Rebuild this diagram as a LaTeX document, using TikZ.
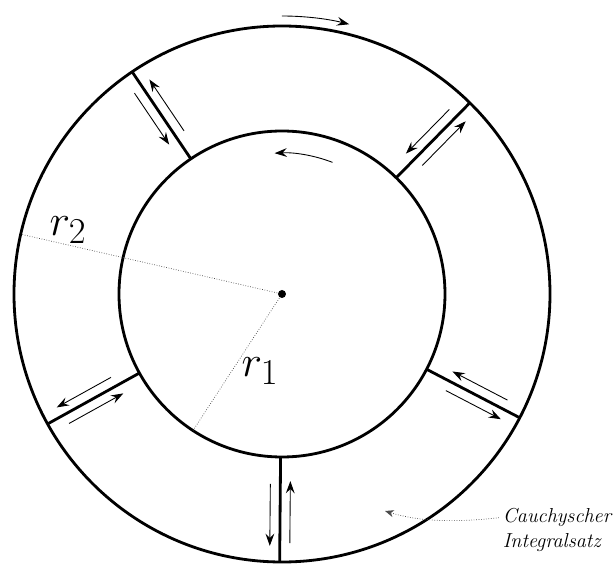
\documentclass[tikz,border=0pt]{standalone}
\usetikzlibrary{arrows.meta}
\newcommand{\schnitt}[1]{\draw[dick] (#1:163) -- (#1:268)}
\newcommand{\pfeilpaar}[1]{\draw[pfeil,shift={(#1+90:10)}] (#1:249) -- (#1:187);
	\draw[pfeil,shift={(#1-90:10)}] (#1:190) -- (#1:252)}
\newcommand{\bogen}[3]{\draw[pfeil] (#1:#3) arc[start angle=#1, end angle=#2, radius=#3]}
\tikzset{dick/.style={line width=1.6pt},
	pfeil/.style={line width=0.5pt,-{Stealth[length=7pt,width=5pt,inset=2.5pt]}},
	radius line/.style={densely dotted,line width=0.4pt,black!70}}

\begin{document}
\begin{tikzpicture}[x=0.02cm,y=0.02cm]
	\useasboundingbox (-282,-271) rectangle (331,294);
	\coordinate (M) at (0,0);
%Circles
	\draw[dick] (M) circle (268);
	\draw[dick] (M) circle (163);
%Cuts
	\schnitt{124};
	\schnitt{45.5};
	\schnitt{-27.5};
	\schnitt{-90.5};
	\schnitt{209};
%Arrows along the cuts
	\pfeilpaar{124};
	\pfeilpaar{45.5};
	\pfeilpaar{-27.5};
	\pfeilpaar{-90.5};
	\pfeilpaar{209};
%Arrows along the circles
	\bogen{90}{76}{278};
	\bogen{69}{93}{141};
%Radii
	\coordinate (R2) at (167.1:268);
	\coordinate (R1) at (236.9:163);
	\draw[radius line] (M) -- (R2);
	\draw[radius line] (M) -- (R1);
	\fill (M) circle (4);
	\node (rzwei) at (-214,64) {\Huge $r_2$};
	\node (reins) at (-22,-77) {\Huge $r_1$};
%Label
	\node[align=left,inner sep=0pt,font={\itshape\fontsize{11.5}{14.6}\selectfont}] (cauchy) at (275,-236)
		{Cauchyscher\\Integralsatz};
	\coordinate (ziel) at (103,-217);
	\draw[radius line,-{Stealth[length=5pt,width=4pt,inset=1.5pt]}] ([xshift=-2,yshift=7]cauchy.west)
		.. controls (170,-229) and (135,-227) .. (ziel);
\end{tikzpicture}
\end{document}
